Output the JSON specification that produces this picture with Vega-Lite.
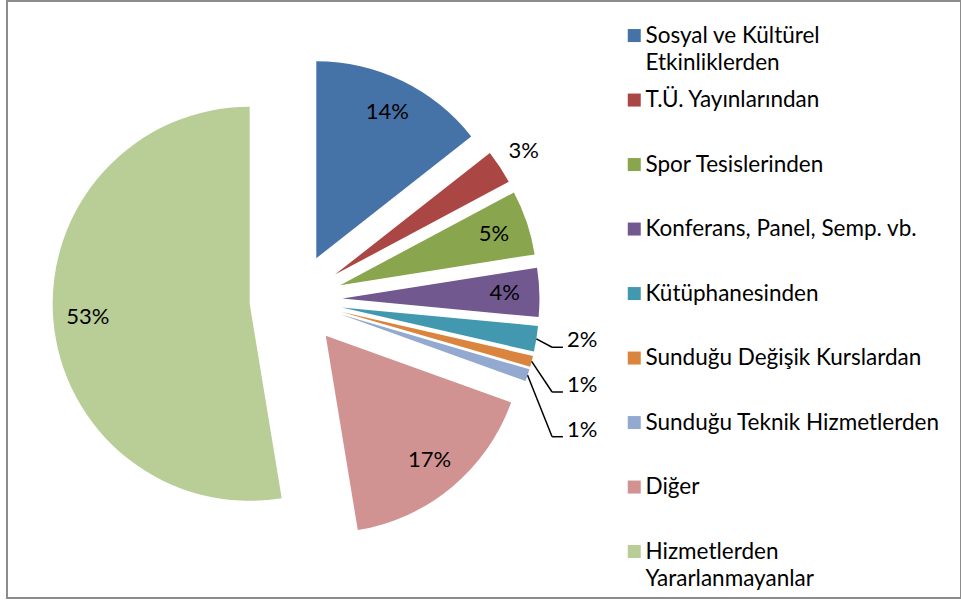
{
  "$schema": "https://vega.github.io/schema/vega-lite/v6.json",
  "width": 954,
  "height": 597,
  "autosize": {"type": "none"},
  "padding": {"left": 7, "top": 1, "right": 0, "bottom": 5},
  "background": "white",
  "config": {"view": {"stroke": "#8c8c8c", "strokeWidth": 2}, "font": "Lato", "style": {"guide-label": {"lineHeight": 27}}},
  "data": {
    "values": [
      {"order": 1, "category": "Sosyal ve Kültürel Etkinliklerden", "value": 14.4},
      {"order": 2, "category": "T.Ü. Yayınlarından", "value": 2.8},
      {"order": 3, "category": "Spor Tesislerinden", "value": 5.3},
      {"order": 4, "category": "Konferans, Panel, Semp. vb.", "value": 4.0},
      {"order": 5, "category": "Kütüphanesinden", "value": 2.1},
      {"order": 6, "category": "Sunduğu Değişik Kurslardan", "value": 0.9},
      {"order": 7, "category": "Sunduğu Teknik Hizmetlerden", "value": 1.0},
      {"order": 8, "category": "Diğer", "value": 16.9},
      {"order": 9, "category": "Hizmetlerden Yararlanmayanlar", "value": 52.6}
    ]
  },
  "transform": [
    {"calculate": "datum.value < 2.5 ? 1 : 0", "as": "small"},
    {"window": [{"op": "sum", "field": "value", "as": "cum"}, {"op": "sum", "field": "small", "as": "ks"}], "sort": [{"field": "order"}], "frame": [null, 0]},
    {"calculate": "datum.cum - datum.value", "as": "start"},
    {"calculate": "(datum.cum - datum.value / 2) * PI / 50", "as": "mid"},
    {"calculate": "0.236 * sin(datum.mid)", "as": "cx"},
    {"calculate": "0.236 * cos(datum.mid)", "as": "cy"},
    {"calculate": "datum.value >= 3.5 ? 1.06 : 1.38", "as": "lr"},
    {"calculate": "datum.lr * sin(datum.mid)", "as": "tx"},
    {"calculate": "datum.lr * cos(datum.mid)", "as": "ty"},
    {"calculate": "format(datum.value, '.0f') + '%'", "as": "pct"},
    {"calculate": "1.236 * sin(datum.mid)", "as": "ex"},
    {"calculate": "1.236 * cos(datum.mid)", "as": "ey"},
    {"calculate": "1.375", "as": "lx"},
    {"calculate": "-0.24 - 0.227 * (datum.ks - 1)", "as": "ly"},
    {"calculate": "datum.lx - 0.075", "as": "bx"},
    {"calculate": "datum.lx - 0.02", "as": "hx"}
  ],
  "layer": [
    {
      "mark": {"type": "arc", "outerRadius": 197, "stroke": null},
      "encoding": {
        "theta": {"field": "start", "type": "quantitative", "scale": {"domain": [0, 100], "range": [0, 6.283185307179586]}, "stack": null},
        "theta2": {"field": "cum"},
        "x": {"field": "cx", "type": "quantitative", "stack": null, "axis": null, "scale": {"domain": [-1.46701, 3.37563], "nice": false, "zero": false}},
        "y": {"field": "cy", "type": "quantitative", "stack": null, "axis": null, "scale": {"domain": [-1.51269, 1.51777], "nice": false, "zero": false}},
        "color": {
          "field": "category",
          "type": "nominal",
          "scale": {
            "domain": ["Sosyal ve Kültürel Etkinliklerden", "T.Ü. Yayınlarından", "Spor Tesislerinden", "Konferans, Panel, Semp. vb.", "Kütüphanesinden", "Sunduğu Değişik Kurslardan", "Sunduğu Teknik Hizmetlerden", "Diğer", "Hizmetlerden Yararlanmayanlar"],
            "range": ["#4572A7", "#AA4643", "#89A54E", "#71588F", "#4198AF", "#DB843D", "#93A9CF", "#D19392", "#B9CD96"]
          },
          "legend": {
            "title": null,
            "orient": "none",
            "legendX": 616,
            "legendY": 23.3,
            "symbolType": "square",
            "symbolSize": 169,
            "symbolStrokeWidth": 0,
            "symbolOpacity": 1,
            "labelFont": "Lato",
            "labelFontSize": 22.5,
            "labelColor": "#000000",
            "labelLimit": 400,
            "labelOffset": 0,
            "labelBaseline": "middle",
            "rowPadding": 14.5,
            "gridAlign": "all",
            "labelExpr": "datum.label == 'Sosyal ve Kültürel Etkinliklerden' ? ['\u00a0Sosyal ve Kültürel', 'Etkinliklerden'] : datum.label == 'Hizmetlerden Yararlanmayanlar' ? ['Hizmetlerden', 'Yararlanmayanlar'] : datum.label == 'Sunduğu Değişik Kurslardan' ? '\u00a0' + datum.label : datum.label"
          }
        }
      }
    },
    {
      "transform": [{"filter": "datum.value >= 2.5"}],
      "mark": {"type": "text", "font": "Lato", "fontSize": 22, "color": "#000000", "align": "center", "baseline": "middle"},
      "encoding": {
        "x": {"field": "tx", "type": "quantitative", "axis": null, "scale": {"domain": [-1.46701, 3.37563], "nice": false, "zero": false}},
        "y": {"field": "ty", "type": "quantitative", "axis": null, "scale": {"domain": [-1.51269, 1.51777], "nice": false, "zero": false}},
        "text": {"field": "pct"}
      }
    },
    {
      "transform": [{"filter": "datum.value < 2.5"}],
      "mark": {"type": "text", "font": "Lato", "fontSize": 22, "color": "#000000", "align": "left", "baseline": "alphabetic"},
      "encoding": {
        "x": {"field": "lx", "type": "quantitative", "axis": null, "scale": {"domain": [-1.46701, 3.37563], "nice": false, "zero": false}},
        "y": {"field": "ly", "type": "quantitative", "axis": null, "scale": {"domain": [-1.51269, 1.51777], "nice": false, "zero": false}},
        "text": {"field": "pct"}
      }
    },
    {
      "transform": [{"filter": "datum.value < 2.5"}],
      "mark": {"type": "rule", "color": "#000000", "strokeWidth": 1.5},
      "encoding": {
        "x": {"field": "ex", "type": "quantitative", "axis": null, "scale": {"domain": [-1.46701, 3.37563], "nice": false, "zero": false}},
        "y": {"field": "ey", "type": "quantitative", "axis": null, "scale": {"domain": [-1.51269, 1.51777], "nice": false, "zero": false}},
        "x2": {"field": "bx"},
        "y2": {"field": "ly"}
      }
    },
    {
      "transform": [{"filter": "datum.value < 2.5"}],
      "mark": {"type": "rule", "color": "#000000", "strokeWidth": 1.5},
      "encoding": {
        "x": {"field": "bx", "type": "quantitative", "axis": null, "scale": {"domain": [-1.46701, 3.37563], "nice": false, "zero": false}},
        "y": {"field": "ly", "type": "quantitative", "axis": null, "scale": {"domain": [-1.51269, 1.51777], "nice": false, "zero": false}},
        "x2": {"field": "hx"},
        "y2": {"field": "ly"}
      }
    }
  ]
}
